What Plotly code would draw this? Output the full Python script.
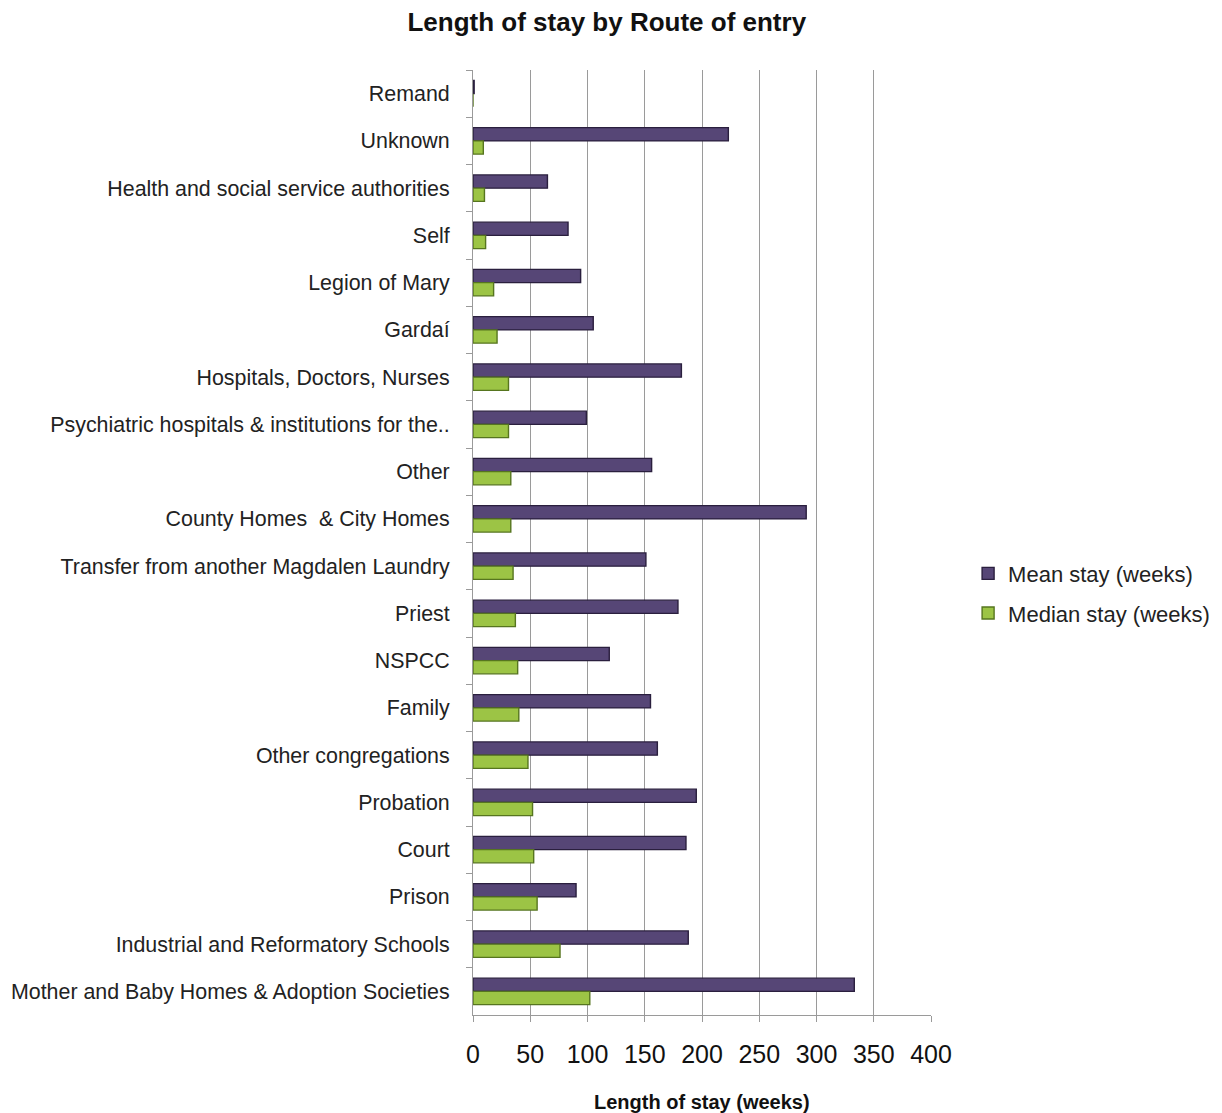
import plotly.graph_objects as go

categories = [
    "Remand",
    "Unknown",
    "Health and social service authorities",
    "Self",
    "Legion of Mary",
    "Gardaí",
    "Hospitals, Doctors, Nurses",
    "Psychiatric hospitals & institutions for the..",
    "Other",
    "County Homes  & City Homes",
    "Transfer from another Magdalen Laundry",
    "Priest",
    "NSPCC",
    "Family",
    "Other congregations",
    "Probation",
    "Court",
    "Prison",
    "Industrial and Reformatory Schools",
    "Mother and Baby Homes & Adoption Societies",
]

mean_stay = [1, 223, 65, 83, 94, 105, 182, 99, 156, 291, 151, 179, 119, 155, 161, 195, 186, 90, 188, 333]
median_stay = [0, 9, 10, 11, 18, 21, 31, 31, 33, 33, 35, 37, 39, 40, 48, 52, 53, 56, 76, 102]

x_ticks = [0, 50, 100, 150, 200, 250, 300, 350, 400]

FONT = "Liberation Sans, Arial, sans-serif"

fig = go.Figure()
fig.add_trace(go.Bar(
    y=categories, x=mean_stay, orientation="h", name="Mean stay (weeks)",
    legendgroup="mean",
    marker=dict(color="#564676", line=dict(color="#2A1F3E", width=1.4)),
))
fig.add_trace(go.Bar(
    y=categories, x=median_stay, orientation="h", name="Median stay (weeks)",
    legendgroup="median",
    marker=dict(color="#9CC445", line=dict(color="#56751F", width=1.4)),
))

fig.update_layout(
    width=1222, height=1113,
    paper_bgcolor="white", plot_bgcolor="white",
    margin=dict(l=465, r=299, t=62, b=106, autoexpand=False),
    barmode="group", bargap=0.44, bargroupgap=0.0,
    font=dict(family=FONT, color="#222222"),
    title=dict(text="<b>Length of stay by Route of entry</b>", x=0.49, xanchor="center",
               y=1 - 14 / 1113, yanchor="middle", font=dict(size=26, color="#111111")),
    showlegend=True,
    legend=dict(x=1.081, y=0.446, xanchor="left", yanchor="middle",
                font=dict(size=22, color="#222222"), tracegroupgap=8,
                itemwidth=30, bgcolor="rgba(0,0,0,0)"),
)

fig.update_xaxes(
    range=[0, 400], tickvals=x_ticks, ticktext=[str(v) for v in x_ticks],
    showgrid=True, gridcolor="#9a9a9a", gridwidth=1,
    showline=True, linecolor="#9a9a9a", linewidth=1,
    ticks="outside", ticklen=6, tickcolor="#9a9a9a",
    tickfont=dict(size=25, color="#111111"), ticklabelstandoff=11,
    zeroline=False, fixedrange=True, automargin=False,
)
fig.update_yaxes(
    autorange="reversed", type="category",
    showline=True, linecolor="#9a9a9a", linewidth=1,
    ticks="outside", ticklen=6, tickcolor="#9a9a9a", tickson="boundaries",
    tickfont=dict(size=21.4, color="#222222"), ticklabelstandoff=18,
    showgrid=False, fixedrange=True, automargin=False,
)

fig.add_annotation(
    text="<b>Length of stay (weeks)</b>", xref="paper", yref="paper",
    x=0.5, y=0, yshift=-87, xanchor="center", yanchor="middle",
    showarrow=False, font=dict(size=20, color="#111111"),
)

fig.write_html("out.html")
